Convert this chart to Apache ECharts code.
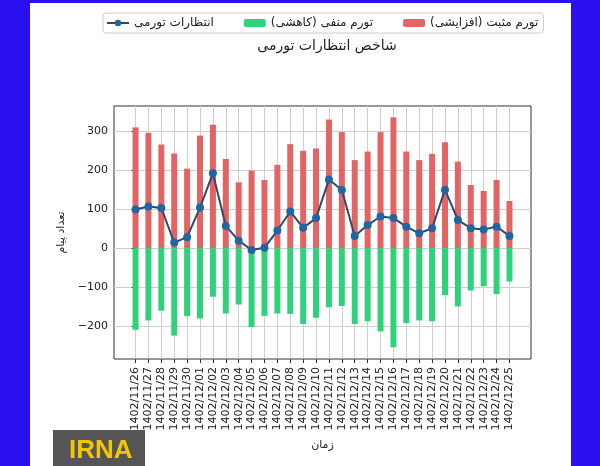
<!DOCTYPE html>
<html>
<head>
<meta charset="utf-8">
<script src="https://cdn.jsdelivr.net/npm/echarts@6/dist/echarts.min.js"></script>
<style>
  html, body { margin: 0; padding: 0; width: 600px; height: 466px; background: #2a0ff0; overflow: hidden; }
  #chart { position: absolute; left: 30px; top: 3px; width: 541px; height: 463px; background: #ffffff; }
</style>
</head>
<body>
<div id="chart"></div>
<script>
const categories = [
  '1402/11/26','1402/11/27','1402/11/28','1402/11/29','1402/11/30',
  '1402/12/01','1402/12/02','1402/12/03','1402/12/04','1402/12/05',
  '1402/12/06','1402/12/07','1402/12/08','1402/12/09','1402/12/10',
  '1402/12/11','1402/12/12','1402/12/13','1402/12/14','1402/12/15',
  '1402/12/16','1402/12/17','1402/12/18','1402/12/19','1402/12/20',
  '1402/12/21','1402/12/22','1402/12/23','1402/12/24','1402/12/25'
];
const positiveInflation = [310,296,266,243,204,289,317,229,169,199,175,214,267,250,256,330,298,226,248,298,336,248,226,242,272,222,162,147,175,121];
const negativeInflation = [-210,-186,-161,-225,-175,-181,-125,-168,-145,-203,-174,-168,-169,-195,-179,-152,-149,-195,-188,-214,-255,-193,-186,-188,-121,-150,-109,-98,-118,-86];
const expectations = [99,107,103,14,28,104,192,57,19,-5,1,45,94,52,77,176,149,31,59,81,77,55,38,51,150,72,51,48,55,31];
const yTicks = [-200,-100,0,100,200,300];

const seriesNames = {
  pos: 'تورم مثبت (افزایشی)',
  neg: 'تورم منفی (کاهشی)',
  line: 'انتظارات تورمی'
};

const idx = categories.map((c, i) => i);
const font = 'DejaVu Sans';

const chart = echarts.init(document.getElementById('chart'), null, { renderer: 'canvas' });
chart.setOption({
  backgroundColor: '#ffffff',
  animation: false,
  title: {
    text: 'شاخص انتظارات تورمی',
    left: 292,
    top: 31,
    textAlign: 'center',
    textStyle: { fontFamily: font, fontSize: 14, fontWeight: 'normal', color: '#222' }
  },
  legend: {
    data: [seriesNames.line, seriesNames.neg, seriesNames.pos],
    left: 73,
    top: 10,
    padding: [4, 5, 4, 3],
    itemGap: 30,
    itemWidth: 22,
    itemHeight: 8,
    borderColor: '#cccccc',
    borderWidth: 1,
    borderRadius: 3,
    textStyle: { fontFamily: font, fontSize: 12, color: '#222' }
  },
  grid: {
    left: 84, top: 103, right: 40, bottom: 107,
    show: true, borderColor: '#333', borderWidth: 1, backgroundColor: 'transparent'
  },
  xAxis: {
    type: 'value',
    min: -1.67,
    max: 30.67,
    name: 'زمان',
    nameLocation: 'middle',
    nameGap: 81,
    nameTextStyle: { fontFamily: font, fontSize: 11, color: '#222' },
    axisLine: { show: false, onZero: false },
    axisTick: { show: true, length: 4, inside: false, customValues: idx, lineStyle: { color: '#333' } },
    axisLabel: {
      customValues: idx,
      rotate: 90,
      margin: 8,
      fontFamily: font,
      fontSize: 11,
      color: '#222',
      formatter: v => categories[Math.round(v)] || ''
    },
    splitLine: { show: true, lineStyle: { color: '#cfcfcf', width: 1 } }
  },
  yAxis: {
    type: 'value',
    min: -285,
    max: 365,
    name: 'تعداد پیام',
    nameLocation: 'middle',
    nameGap: 46,
    nameTextStyle: { fontFamily: font, fontSize: 11, color: '#222' },
    axisLine: { show: false },
    axisTick: { show: true, length: 4, customValues: yTicks, lineStyle: { color: '#333' } },
    axisLabel: {
      customValues: yTicks,
      margin: 6,
      fontFamily: font,
      fontSize: 11,
      color: '#222',
      formatter: v => (v < 0 ? '\u2212' + (-v) : String(v))
    },
    splitLine: { show: true, lineStyle: { color: '#cfcfcf', width: 1 } }
  },
  series: [
    {
      name: seriesNames.pos,
      type: 'bar',
      stack: 'infl',
      barWidth: 6,
      itemStyle: { color: '#e36464' },
      data: positiveInflation.map((v, i) => [i, v])
    },
    {
      name: seriesNames.neg,
      type: 'bar',
      stack: 'infl',
      barWidth: 6,
      itemStyle: { color: '#2fd27a' },
      data: negativeInflation.map((v, i) => [i, v])
    },
    {
      name: seriesNames.line,
      type: 'line',
      symbol: 'circle',
      symbolSize: 8,
      lineStyle: { color: '#2d4a68', width: 2 },
      itemStyle: { color: '#1f66a3' },
      data: expectations.map((v, i) => [i, v]),
      z: 5
    }
  ],
  graphic: [
    {
      type: 'group', left: 23, bottom: 0,
      children: [
        { type: 'rect', shape: { x: 0, y: 0, width: 92, height: 36 }, style: { fill: '#555555' } },
        { type: 'text', x: 16, y: 8, style: { text: 'IRNA', fill: '#f2c600', font: 'bold 26px "Liberation Sans"' } }
      ]
    }
  ]
});
</script>
</body>
</html>
